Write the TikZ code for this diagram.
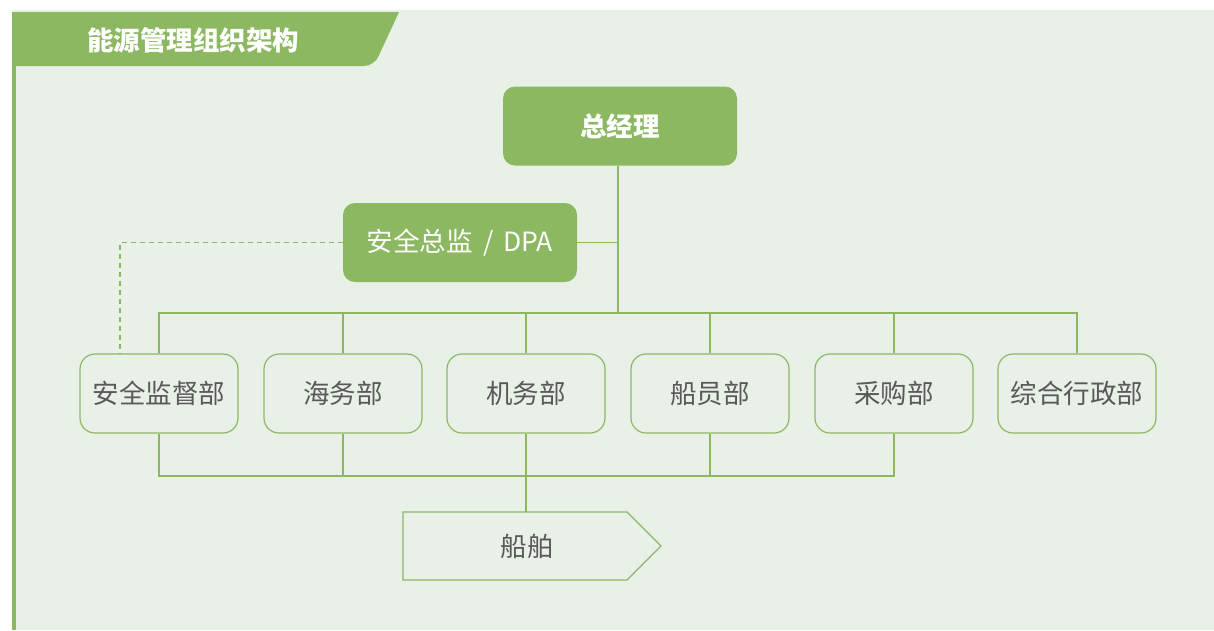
\documentclass[tikz,border=0pt]{standalone}
\usepackage{fontspec}
\setmainfont{Noto Sans CJK SC}
\definecolor{leaf}{HTML}{8DB862}
\definecolor{pale}{HTML}{E9F0E8}
\definecolor{ink}{HTML}{595959}

\begin{document}
\begin{tikzpicture}[x=1pt, y=-1pt,
  boss/.style={fill=leaf, text=white, rounded corners=12pt, minimum width=234pt,
    minimum height=79pt, inner sep=0pt, font=\fontsize{26.5}{30}\selectfont},
  dept/.style={draw=leaf, line width=1.2pt, fill=pale, text=ink, rounded corners=15pt,
    minimum width=158pt, minimum height=79pt, inner sep=0pt, font=\fontsize{26.5}{30}\selectfont},
  link/.style={draw=leaf, line width=1.5pt}]
  \useasboundingbox (0,0) rectangle (1214,630);
  \fill[white] (0,0) rectangle (1214,630);
  \fill[pale] (12,10) rectangle (1214,630);
  \fill[leaf] (12,12) rectangle (15.5,630);
  \fill[leaf] (12,12) -- (399,12) [rounded corners=10pt] -- (374,66) [sharp corners] -- (12,66) -- cycle;
  \node[text=white, font=\fontsize{26.5}{30}\selectfont\bfseries] (Title) at (193,40) {能源管理组织架构};

  \node[boss, font=\fontsize{26.5}{30}\selectfont\bfseries] (GM) at (620,126) {总经理};
  \node[boss] (DPA) at (460,242.5) {安全总监\hspace{11pt}/\hspace{9pt}DPA};

  \node[dept] (Anjian)    at (159,393.5)  {安全监督部};
  \node[dept] (Haiwu)     at (343,393.5)  {海务部};
  \node[dept] (Jiwu)      at (526,393.5)  {机务部};
  \node[dept] (Chuanyuan) at (710,393.5)  {船员部};
  \node[dept] (Caigou)    at (894,393.5)  {采购部};
  \node[dept] (Zonghe)    at (1077,393.5) {综合行政部};

  % ship arrow
  \draw[draw=leaf, line width=1.2pt] (403,512) -- (627,512) -- (661,546) -- (627,580) -- (403,580) -- cycle;
  \node[text=ink, font=\fontsize{26.5}{30}\selectfont] (Ship) at (527,546) {船舶};
  \coordinate (ShipTop) at (527,512);

  % upper bus
  \coordinate (BusTop) at (618,313);
  \draw[link] (GM.south -| BusTop) -- (BusTop);
  \draw[link] (DPA.east) -- (DPA.east -| BusTop);
  \draw[link] (Anjian.north) |- (BusTop) -| (Zonghe.north);
  \foreach \d in {Haiwu,Jiwu,Chuanyuan,Caigou}
    \draw[link] (\d.north) -- (\d.north |- BusTop);
  \draw[link, dash pattern=on 5pt off 4pt, line width=1.2pt] (DPA.west) -| ([xshift=-39pt]Anjian.north);

  % lower bus
  \coordinate (BusLow) at (527,476);
  \draw[link] (Anjian.south) |- (BusLow) -| (Caigou.south);
  \foreach \d in {Haiwu,Chuanyuan}
    \draw[link] (\d.south) -- (\d.south |- BusLow);
  \draw[link] (Jiwu.south) -- (Jiwu.south |- ShipTop);
\end{tikzpicture}
\end{document}
